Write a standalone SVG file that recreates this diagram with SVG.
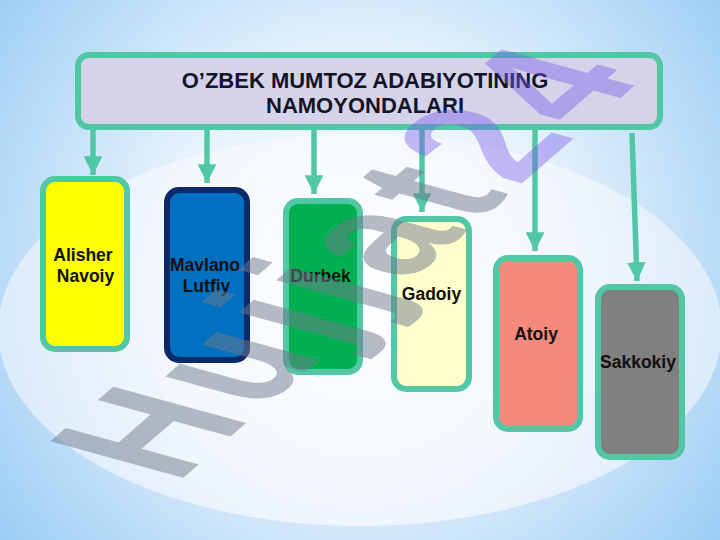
<svg xmlns="http://www.w3.org/2000/svg" width="720" height="540" viewBox="0 0 720 540">
<defs>
<radialGradient id="bg" cx="360" cy="260" r="470" gradientUnits="userSpaceOnUse">
<stop offset="0" stop-color="#ffffff"/>
<stop offset="0.45" stop-color="#e4f1fc"/>
<stop offset="1" stop-color="#97cbf3"/>
</radialGradient>
<radialGradient id="el" cx="360" cy="300" r="360" gradientUnits="userSpaceOnUse">
<stop offset="0" stop-color="#ffffff"/>
<stop offset="0.6" stop-color="#f4f8fd"/>
<stop offset="1" stop-color="#e2eefa"/>
</radialGradient>
<marker id="ah" viewBox="0 0 10 10" refX="10" refY="5" markerWidth="3.4" markerHeight="3.4" markerUnits="strokeWidth" orient="auto">
<path d="M0,0 L10,5 L0,10 z" fill="#52c7a5"/>
</marker>
</defs>
<style>
.box{stroke:#52c7a5;stroke-width:6}
.lbl{font-family:"Liberation Sans",Arial,sans-serif;font-weight:bold;font-size:17.5px;fill:#111;text-anchor:middle}
.hdr{font-family:"Liberation Sans",Arial,sans-serif;font-weight:bold;font-size:22px;fill:#141428;text-anchor:middle}
.con{stroke:#52c7a5;stroke-width:5.5;fill:none}
</style>
<rect x="0" y="0" width="720" height="540" fill="url(#bg)"/>
<ellipse cx="360" cy="330" rx="362" ry="196" fill="url(#el)" opacity="0.85"/>

<g id="header">
<rect class="box" x="78" y="55" width="582" height="72" rx="11" fill="#d5d3ea"/>
<text class="hdr" x="365" y="87.5">O’ZBEK MUMTOZ ADABIYOTINING</text>
<text class="hdr" x="365" y="112.5">NAMOYONDALARI</text>
</g>

<g id="connectors">
<line class="con" x1="93" y1="129" x2="93" y2="175" marker-end="url(#ah)"/>
<line class="con" x1="207" y1="129" x2="207" y2="183" marker-end="url(#ah)"/>
<line class="con" x1="314" y1="129" x2="314" y2="194" marker-end="url(#ah)"/>
<line class="con" x1="422" y1="129" x2="422" y2="212" marker-end="url(#ah)"/>
<line class="con" x1="535" y1="129" x2="535" y2="251" marker-end="url(#ah)"/>
<line class="con" x1="632" y1="133" x2="637" y2="281" marker-end="url(#ah)"/>
</g>

<g id="n1">
<rect class="box" x="43" y="179" width="84" height="170" rx="12" fill="#ffff00"/>
<text class="lbl" x="83" y="261">Alisher</text>
<text class="lbl" x="85.5" y="281.5">Navoiy</text>
</g>
<g id="n2">
<rect x="167" y="190" width="80" height="170" rx="12" fill="#0070c0" stroke="#0c2a6a" stroke-width="6"/>
<text class="lbl" x="205" y="270.5">Mavlano</text>
<text class="lbl" x="206.5" y="291.5">Lutfiy</text>
</g>
<g id="n3">
<rect class="box" x="286" y="201" width="74" height="171" rx="12" fill="#00b050"/>
<text class="lbl" x="320.5" y="282">Durbek</text>
</g>
<g id="n4">
<rect class="box" x="394" y="219" width="75" height="170" rx="12" fill="#ffffcc"/>
<text class="lbl" x="431.5" y="300">Gadoiy</text>
</g>
<g id="n5">
<rect class="box" x="496" y="258" width="84" height="171" rx="12" fill="#f48a7b"/>
<text class="lbl" x="536" y="340">Atoiy</text>
</g>
<g id="n6">
<rect class="box" x="598" y="287" width="84" height="170" rx="12" fill="#808080"/>
<text class="lbl" x="638" y="368">Sakkokiy</text>
</g>

<g id="watermark">
<text transform="matrix(1.07,-0.93,1.93,0.53,176,484)" font-family="Liberation Sans, Arial, sans-serif" font-weight="bold" font-size="100" letter-spacing="7"><tspan fill="#6f7a8c" fill-opacity="0.5">Hujjat</tspan><tspan fill="#7a5ce6" fill-opacity="0.42">24</tspan></text>
</g>
</svg>
